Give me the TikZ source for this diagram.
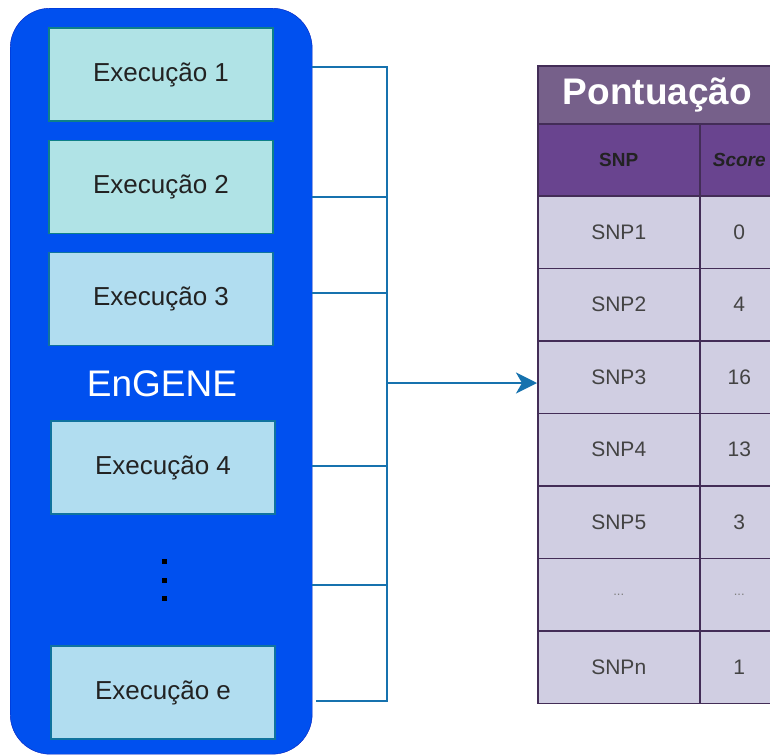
\documentclass[tikz,border=0pt]{standalone}
\usepackage{fontspec}
\setmainfont{Liberation Sans}
\usetikzlibrary{arrows.meta}
\definecolor{bluebg}{HTML}{0050EF}
\definecolor{bluebd}{HTML}{001DBC}
\definecolor{tealfill}{HTML}{B0E3E6}
\definecolor{tealbd}{HTML}{0E8088}
\definecolor{ltblue}{HTML}{B1DDF0}
\definecolor{ltbluebd}{HTML}{10739E}
\definecolor{conn}{HTML}{1672AE}
\definecolor{titlefill}{HTML}{76608A}
\definecolor{headfill}{HTML}{69448F}
\definecolor{rowfill}{HTML}{D0CEE2}
\definecolor{tblbd}{HTML}{432D57}
\definecolor{txt}{HTML}{222222}
\tikzset{
  runbox/.style={draw=#1, line width=1.5pt, minimum width=224pt, minimum height=93pt, inner sep=0pt,
    font=\fontsize{26}{29}\selectfont, text=txt},
  cell/.style={draw=tblbd, line width=1.5pt, fill=rowfill, anchor=north west, inner sep=0pt,
    minimum height=72.5pt, text=txt!85, font=\fontsize{21}{24}\selectfont},
  link/.style={draw=conn, line width=2.5pt},
}
\begin{document}
\begin{tikzpicture}[x=1pt,y=-1pt]
\useasboundingbox (0,0) rectangle (770,755);
\clip (0,0) rectangle (770,755);
% EnGENE container
\node[draw=bluebd, fill=bluebg, rounded corners=40pt, minimum width=302pt, minimum height=746pt,
  inner sep=0pt, anchor=north west] (engene) at (10,8) {};
\node[text=white, font=\fontsize{37}{40}\selectfont] (lbl) at (162,384) {EnGENE};
\node[runbox=tealbd, fill=tealfill] (e1) at (161,74.5) {Execução 1};
\node[runbox=tealbd, fill=tealfill] (e2) at (161,187) {Execução 2};
\node[runbox=ltbluebd, fill=ltblue] (e3) at (161,299) {Execução 3};
\node[runbox=ltbluebd, fill=ltblue] (e4) at (163,467.5) {Execução 4};
\node[runbox=ltbluebd, fill=ltblue] (e5) at (163,692.5) {Execução e};
% vertical dots
\foreach \yy in {561,580,598}
  \fill[black] (161.5,\yy-2.5) rectangle (166.5,\yy+2.5);
% table
\node[draw=tblbd, line width=1.5pt, fill=titlefill, anchor=north west, minimum width=241pt,
  minimum height=58pt, inner sep=0pt] (title) at (537,65) {};
\node[text=white, font=\bfseries\fontsize{37}{40}\selectfont] (titletxt) at (657.5,95) {Pontuação};
\node[cell, fill=headfill, minimum width=162pt, minimum height=72pt, text=txt, font=\bfseries\fontsize{19}{22}\selectfont] (h1) at (537,123) {SNP};
\node[cell, fill=headfill, minimum width=79pt, minimum height=72pt, text=txt, font=\bfseries\itshape\fontsize{19}{22}\selectfont] (h2) at (699,123) {Score};
\node[cell, minimum width=162pt] (r1a) at (537,195) {SNP1};
\node[cell, minimum width=79pt] (r1b) at (699,195) {0};
\node[cell, minimum width=162pt] (r2a) at (537,267.5) {SNP2};
\node[cell, minimum width=79pt] (r2b) at (699,267.5) {4};
\node[cell, minimum width=162pt] (r3a) at (537,340) {SNP3};
\node[cell, minimum width=79pt] (r3b) at (699,340) {16};
\node[cell, minimum width=162pt] (r4a) at (537,412.5) {SNP4};
\node[cell, minimum width=79pt] (r4b) at (699,412.5) {13};
\node[cell, minimum width=162pt] (r5a) at (537,485) {SNP5};
\node[cell, minimum width=79pt] (r5b) at (699,485) {3};
\node[cell, minimum width=162pt, text=gray, font=\fontsize{13}{15}\selectfont] (r6a) at (537,557.5) {...};
\node[cell, minimum width=79pt, text=gray, font=\fontsize{13}{15}\selectfont] (r6b) at (699,557.5) {...};
\node[cell, minimum width=162pt] (r7a) at (537,630) {SNPn};
\node[cell, minimum width=79pt] (r7b) at (699,630) {1};
% connectors
\coordinate (s1) at (312,67);  \coordinate (j1) at (387,67);
\coordinate (s2) at (312,197); \coordinate (j2) at (387,197);
\coordinate (s3) at (312,293); \coordinate (j3) at (387,293);
\coordinate (s4) at (312,466); \coordinate (j4) at (387,466);
\coordinate (s5) at (312,585); \coordinate (j5) at (387,585);
\coordinate (s6) at (316,701); \coordinate (j6) at (387,701);
\coordinate (jm) at (387,383);
\foreach \i in {1,...,6} \draw[link] (s\i) -- (j\i);
\draw[link, line cap=rect] (j1) -- (j6);
\draw[link, -{Stealth[length=21pt,width=21pt,inset=6pt]}] (jm) -- (jm -| r3a.west);
\end{tikzpicture}
\end{document}
